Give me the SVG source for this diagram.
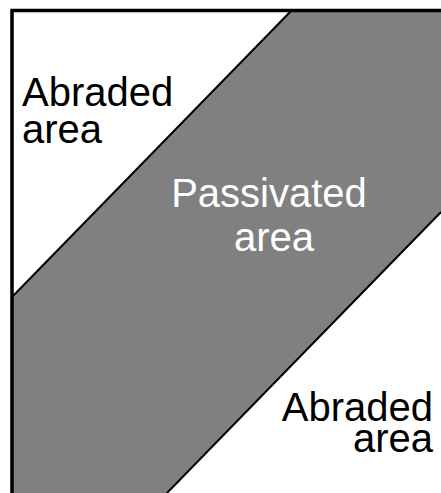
<svg xmlns="http://www.w3.org/2000/svg" width="441" height="493" viewBox="0 0 441 493">
  <style>
    .lbl { font-family: "Liberation Sans", Arial, sans-serif; font-size: 40px; }
    .dark { fill: #000000; }
    .light { fill: #ffffff; }
    .edge { stroke: #000000; stroke-width: 2; fill: none; }
    .frame { stroke: #000000; stroke-width: 3.5; fill: none; }
  </style>
  <rect x="0" y="0" width="441" height="493" fill="#ffffff"/>
  <g id="passivated-band">
    <polygon points="292,10 441,10 441,212 167,493 12,493 12,297" fill="#808080"/>
  </g>
  <g id="edges">
    <line class="edge" x1="292" y1="10" x2="12" y2="297"/>
    <line class="edge" x1="441" y1="212" x2="167" y2="493"/>
  </g>
  <g id="frame">
    <polyline class="frame" points="12,493 12,10.5 441,10.5"/>
  </g>
  <g id="abraded-top">
    <text class="lbl dark" x="22" y="106">Abraded</text>
    <text class="lbl dark" x="22" y="143">area</text>
  </g>
  <g id="passivated">
    <text class="lbl light" x="269" y="207" text-anchor="middle">Passivated</text>
    <text class="lbl light" x="274" y="251" text-anchor="middle">area</text>
  </g>
  <g id="abraded-bottom">
    <text class="lbl dark" x="433" y="421" text-anchor="end">Abraded</text>
    <text class="lbl dark" x="433" y="452" text-anchor="end">area</text>
  </g>
</svg>
